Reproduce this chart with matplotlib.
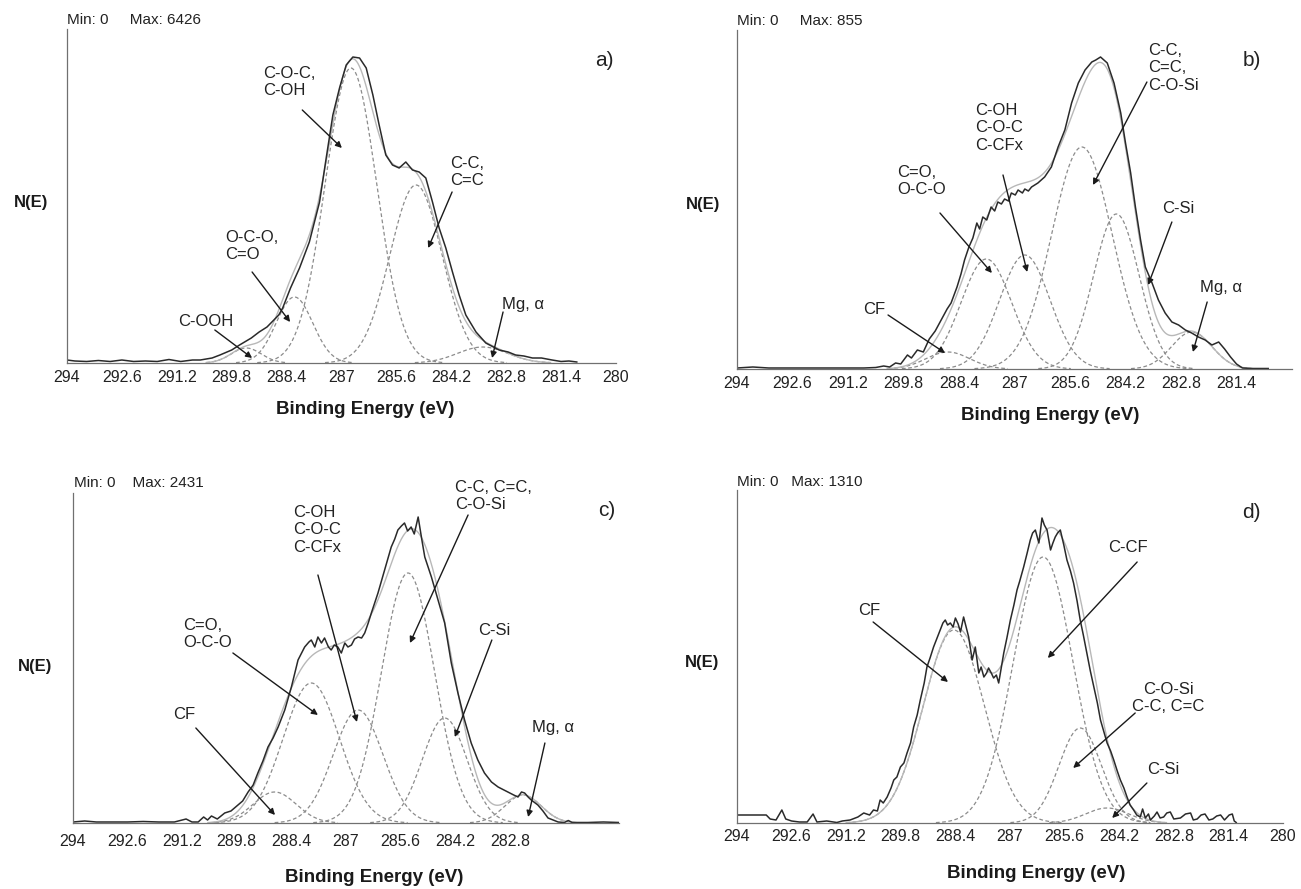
import numpy as np
import matplotlib.pyplot as plt

plt.rcParams['font.family'] = ['Liberation Sans', 'DejaVu Sans']

# ---- panel a: measured C1s spectrum (height above baseline) and fitted peaks
a_energy = [294.0, 293.8, 293.5, 293.2, 292.9, 292.6, 292.3, 292.0, 291.7, 291.4,
            291.1, 290.8, 290.6, 290.3, 290.1, 289.8, 289.6, 289.3, 289.1, 288.9,
            288.6, 288.5, 288.3, 288.07, 287.82, 287.56, 287.39, 287.22, 287.05, 286.88,
            286.71, 286.54, 286.37, 286.2, 286.04, 285.87, 285.7, 285.53, 285.36, 285.19,
            285.02, 284.85, 284.68, 284.51, 284.34, 284.17, 284.0, 283.83, 283.57, 283.32,
            282.98, 282.75, 282.56, 282.35, 282.13, 281.9, 281.63, 281.4, 281.2, 281.0]
a_signal = [3, 2, 1.5, 2.5, 1.5, 3, 1.5, 2, 1.5, 3.5,
            1.5, 3, 3, 5, 8, 13, 18, 25, 31, 36,
            48, 55, 75, 95, 121, 161, 205, 248, 275, 298,
            306, 305, 295, 268, 238, 208, 198, 195, 201, 193,
            191, 185, 161, 135, 115, 91, 68, 48, 31, 20,
            13, 11, 8, 7, 5, 5, 3, 1.5, 2, 1]
a_centers = [289.43, 288.2, 286.76, 285.1, 283.4]
a_fwhm = [0.9, 1.1, 1.55, 1.57, 1.5]
a_heights = [15, 66, 295, 178, 16]

# ---- panel b
b_energy = [294.0, 293.6, 293.2, 292.8, 292.4, 292.0, 291.6, 291.2, 290.8, 290.5,
            290.3, 290.15, 290.0, 289.87, 289.7, 289.6, 289.45, 289.3, 289.15, 289.0,
            288.85, 288.7, 288.6, 288.45, 288.35, 288.26, 288.15, 288.05, 287.95, 287.88,
            287.8, 287.7, 287.59, 287.5, 287.42, 287.33, 287.25, 287.15, 287.08, 286.98,
            286.91, 286.8, 286.74, 286.65, 286.57, 286.41, 286.24, 286.07, 285.9, 285.73,
            285.56, 285.39, 285.22, 285.05, 284.95, 284.83, 284.66, 284.49, 284.32, 284.2,
            284.07, 283.95, 283.82, 283.7, 283.53, 283.37, 283.2, 283.03, 282.86, 282.69,
            282.53, 282.36, 282.19, 282.02, 281.85, 281.7, 281.55, 281.4, 281.25, 281.0,
            280.6]
b_signal = [1, 2, 1, 1, 1, 1, 1, 1, 1, 1.5,
            3, 2, 6, 5, 14, 11, 19, 17, 30, 38,
            49, 60, 66, 82, 95, 109, 122, 131, 146, 140,
            152, 149, 162, 158, 167, 165, 170, 168, 176, 174,
            179, 176, 180, 178, 182, 186, 192, 202, 222, 239,
            266, 286, 299, 307, 309, 312, 306, 286, 256, 226,
            196, 162, 129, 102, 86, 69, 56, 47, 44, 39,
            36, 32, 29, 24, 27, 20, 12, 5, 1, 0.5,
            0.5]
b_centers = [288.68, 287.71, 286.74, 285.3, 284.43, 282.53]
b_fwhm = [1.3, 1.5, 1.5, 1.8, 1.35, 1.2]
b_heights = [17, 110, 114, 222, 155, 37]

# ---- panel c
c_energy = [294.0, 293.7, 293.4, 293.0, 292.6, 292.2, 291.8, 291.4, 291.1, 290.95,
            290.79, 290.65, 290.55, 290.45, 290.3, 290.11, 289.95, 289.77, 289.65, 289.51,
            289.38, 289.26, 289.13, 289.0, 288.87, 288.74, 288.57, 288.4, 288.23, 288.06,
            287.95, 287.89, 287.8, 287.72, 287.63, 287.55, 287.45, 287.38, 287.3, 287.21,
            287.12, 287.03, 286.95, 286.86, 286.78, 286.69, 286.6, 286.52, 286.43, 286.35,
            286.18, 286.01, 285.84, 285.75, 285.67, 285.58, 285.5, 285.42, 285.33, 285.25,
            285.15, 285.05, 284.98, 284.81, 284.64, 284.47, 284.3, 284.13, 283.96, 283.79,
            283.62, 283.45, 283.27, 283.1, 282.85, 282.7, 282.59, 282.5, 282.42, 282.33,
            282.25, 282.08, 281.95, 281.82, 281.56, 281.4, 281.3, 281.2, 280.8, 280.4,
            280.0]
c_signal = [1, 2, 1, 1, 1, 1.5, 1, 1, 4, 1,
            1, 6, 3, 7, 4, 10, 12, 18, 22, 31,
            38, 50, 62, 76, 85, 96, 113, 136, 163, 176,
            181, 183, 176, 186, 180, 185, 176, 173, 178, 176,
            170, 180, 176, 178, 184, 186, 185, 190, 200, 210,
            230, 253, 276, 284, 293, 297, 300, 292, 296, 289,
            306, 282, 266, 246, 223, 200, 160, 130, 103, 80,
            63, 50, 41, 36, 31, 28, 26, 31, 30, 26,
            23, 18, 12, 5, 1, 0.5, 2.5, 0.5, 0.5, 1,
            0.5]
c_centers = [288.83, 287.89, 286.69, 285.41, 284.47, 282.46]
c_fwhm = [1.3, 1.7, 1.5, 1.6, 1.35, 1.1]
c_heights = [31, 140, 113, 250, 105, 28]

# ---- panel d
d_energy = [294.0, 293.6, 293.25, 293.15, 293.0, 292.85, 292.75, 292.6, 292.4, 292.2,
            292.05, 291.95, 291.7, 291.44, 291.3, 291.1, 290.9, 290.75, 290.6, 290.5,
            290.4, 290.33, 290.25, 290.15, 290.05, 289.98, 289.9, 289.81, 289.72, 289.64,
            289.55, 289.47, 289.38, 289.3, 289.2, 289.13, 289.05, 288.96, 288.88, 288.79,
            288.72, 288.66, 288.6, 288.53, 288.46, 288.4, 288.33, 288.27, 288.19, 288.12,
            288.06, 287.97, 287.89, 287.8, 287.74, 287.67, 287.6, 287.55, 287.48, 287.42,
            287.35, 287.29, 287.16, 287.08, 286.99, 286.9, 286.82, 286.75, 286.65, 286.56,
            286.48, 286.42, 286.35, 286.3, 286.26, 286.22, 286.18, 286.12, 286.05, 285.96,
            285.9, 285.84, 285.78, 285.71, 285.62, 285.54, 285.45, 285.37, 285.28, 285.2,
            285.12, 285.03, 284.94, 284.85, 284.76, 284.68, 284.6, 284.51, 284.42, 284.34,
            284.25, 284.17, 284.08, 284.0, 283.92, 283.83, 283.75, 283.66, 283.6, 283.53,
            283.45, 283.4, 283.3, 283.23, 283.15, 283.06, 282.98, 282.89, 282.8, 282.63,
            282.5, 282.37, 282.3, 282.2, 282.1, 282.0, 281.9, 281.8, 281.7, 281.6,
            281.5, 281.38, 281.3, 281.25, 281.2]
d_signal = [8, 8, 8, 4, 3, 13, 4, 2, 1, 1,
            9, 1, 2, 0.5, 2, 3, 6, 10, 8, 13,
            12, 23, 20, 26, 35, 43, 46, 56, 60, 70,
            80, 96, 108, 123, 140, 156, 165, 176, 184, 193,
            200, 203, 198, 200, 196, 205, 199, 191, 206, 195,
            186, 163, 176, 150, 156, 146, 150, 155, 150, 145,
            148, 140, 170, 185, 203, 218, 233, 242, 256, 270,
            283, 290, 293, 286, 280, 292, 305, 298, 293, 273,
            280, 286, 290, 293, 278, 263, 252, 240, 222, 203,
            188, 170, 152, 136, 120, 103, 92, 80, 72, 63,
            52, 43, 35, 26, 18, 13, 8, 6, 14, 5,
            9, 3, 7, 11, 5, 6, 10, 11, 4, 5,
            9, 10, 3, 4, 8, 9, 3, 4, 7, 8,
            3, 8, 9, 2, 0.5]
d_centers = [288.44, 286.15, 285.2, 284.51]
d_fwhm = [1.85, 1.8, 1.28, 1.3]
d_heights = [193, 266, 95, 15]

tick_values = [294, 292.6, 291.2, 289.8, 288.4, 287, 285.6, 284.2, 282.8, 281.4, 280]
tick_labels = ['294', '292.6', '291.2', '289.8', '288.4', '287', '285.6', '284.2', '282.8', '281.4', '280']

W, H = 1301, 889


def px_rect(x0, y0, x1, y1):
    return [x0 / W, 1 - y1 / H, (x1 - x0) / W, (y1 - y0) / H]


def gauss(e, center, fwhm, height):
    return height * np.exp(-4 * np.log(2) * (e - center) ** 2 / fwhm ** 2)


def draw_panel(fig, rect, ytop, energy, signal, centers, fwhm, heights, n_ticks, tick_pad):
    ax = fig.add_axes(rect)
    grid = np.linspace(294, 280, 1401)
    parts = [gauss(grid, c, w, h) for c, w, h in zip(centers, fwhm, heights)]
    for p in parts:
        m = p > 0.4
        ax.plot(grid[m], p[m], color='#8c8c8c', lw=0.9, ls=(0, (3, 2)))
    envelope = np.sum(parts, axis=0)
    m = envelope > 0.4
    ax.plot(grid[m], envelope[m], color='#b8b8b8', lw=1.0)
    ax.plot(energy, signal, color='#2a2a2a', lw=1.1)
    ax.set_xlim(294, 280)
    ax.set_ylim(0, ytop)
    ax.set_xticks(tick_values[:n_ticks])
    ax.set_xticklabels(tick_labels[:n_ticks])
    ax.set_yticks([])
    ax.tick_params(axis='x', length=0, pad=tick_pad, labelsize=11.5, colors='#222222')
    for s in ['top', 'right']:
        ax.spines[s].set_visible(False)
    for s in ['left', 'bottom']:
        ax.spines[s].set_color('#707070')
        ax.spines[s].set_linewidth(0.9)
    ax.patch.set_alpha(0)
    return ax


def label(ax, text, pos, start, tip, ha='left'):
    ax.text(pos[0], pos[1], text, ha=ha, va='top', fontsize=12, linespacing=1.2,
            color='#222222', clip_on=False)
    ax.annotate('', xy=tip, xytext=start, annotation_clip=False,
                arrowprops=dict(arrowstyle='-|>', color='#1a1a1a', lw=1.0,
                                mutation_scale=9, shrinkA=0, shrinkB=0))


def fig_text(fig, x, y, text, **kw):
    fig.text(x / W, 1 - y / H, text, **kw)


def main():
    fig = plt.figure(figsize=(13.01, 8.89), dpi=100)

    # a)
    ax = draw_panel(fig, px_rect(67, 29, 616, 363), 334, a_energy, a_signal,
                    a_centers, a_fwhm, a_heights, 11, 5)
    label(ax, 'C-O-C,\nC-OH', (289.0, 297), (288.0, 253), (286.99, 215))
    label(ax, 'C-C,\nC=C', (284.23, 207), (284.18, 171), (284.79, 115))
    label(ax, 'O-C-O,\nC=O', (289.97, 133), (289.28, 91), (288.31, 41))
    label(ax, 'C-OOH', (291.17, 49), (290.23, 33), (289.28, 5))
    label(ax, 'Mg, α', (282.9, 66), (282.88, 51), (283.16, 5))

    # b)
    ax = draw_panel(fig, px_rect(737, 30, 1292, 369), 339, b_energy, b_signal,
                    b_centers, b_fwhm, b_heights, 10, 5)
    label(ax, 'C-C,\nC=C,\nC-O-Si', (283.63, 326), (283.66, 287), (285.02, 184))
    label(ax, 'C-OH\nC-O-C\nC-CFx', (288.0, 266), (287.29, 194), (286.68, 97))
    label(ax, 'C=O,\nO-C-O', (289.96, 204), (288.88, 156), (287.57, 96))
    label(ax, 'CF', (290.82, 67), (290.19, 54), (288.75, 16))
    label(ax, 'C-Si', (283.28, 168), (283.03, 147), (283.63, 84))
    label(ax, 'Mg, α', (282.32, 89), (282.14, 67), (282.5, 17))

    # c)
    ax = draw_panel(fig, px_rect(73, 493, 619, 823), 330, c_energy, c_signal,
                    c_centers, c_fwhm, c_heights, 9, 8)
    label(ax, 'C-C, C=C,\nC-O-Si', (284.21, 343), (283.87, 308), (285.36, 180))
    label(ax, 'C-OH\nC-O-C\nC-CFx', (288.36, 318), (287.72, 248), (286.72, 101))
    label(ax, 'C=O,\nO-C-O', (291.18, 205), (289.9, 170), (287.72, 108))
    label(ax, 'CF', (291.44, 116), (290.85, 95), (288.82, 8))
    label(ax, 'C-Si', (283.62, 200), (283.26, 183), (284.21, 86))
    label(ax, 'Mg, α', (282.23, 103), (281.9, 80), (282.33, 6))

    # d)
    ax = draw_panel(fig, px_rect(737, 490, 1283, 823), 333, d_energy, d_signal,
                    d_centers, d_fwhm, d_heights, 11, 4)
    label(ax, 'CF', (290.9, 220), (290.51, 201), (288.59, 141))
    label(ax, 'C-CF', (284.49, 283), (283.74, 261), (286.03, 165))
    label(ax, 'C-O-Si\nC-C, C=C', (282.95, 141), (283.79, 110), (285.38, 55), ha='center')
    label(ax, 'C-Si', (283.49, 61), (283.49, 40), (284.38, 5))

    # panel letters, header texts, y-labels and x-labels placed in figure pixels
    letter = dict(fontsize=15, color='#222222', ha='center', va='center')
    fig_text(fig, 604, 61, 'a)', **letter)
    fig_text(fig, 1252, 60, 'b)', **letter)
    fig_text(fig, 607, 510, 'c)', **letter)
    fig_text(fig, 1251, 512, 'd)', **letter)

    small = dict(fontsize=11, color='#222222', va='center', ha='left')
    fig_text(fig, 67, 20, 'Min: 0     Max: 6426', **small)
    fig_text(fig, 737, 21, 'Min: 0     Max: 855', **small)
    fig_text(fig, 74, 483, 'Min: 0    Max: 2431', **small)
    fig_text(fig, 737, 482, 'Min: 0   Max: 1310', **small)

    bold = dict(fontsize=12, fontweight='bold', color='#1a1a1a', ha='center', va='center')
    fig_text(fig, 31, 203, 'N(E)', **bold)
    fig_text(fig, 703, 205, 'N(E)', **bold)
    fig_text(fig, 35, 667, 'N(E)', **bold)
    fig_text(fig, 702, 663, 'N(E)', **bold)

    xl = dict(fontsize=13.5, fontweight='bold', color='#1a1a1a', ha='center', va='center')
    fig_text(fig, 365, 410, 'Binding Energy (eV)', **xl)
    fig_text(fig, 1050, 415, 'Binding Energy (eV)', **xl)
    fig_text(fig, 374, 877, 'Binding Energy (eV)', **xl)
    fig_text(fig, 1036, 873, 'Binding Energy (eV)', **xl)

    fig.savefig('out.png', dpi=100)


if __name__ == '__main__':
    main()
